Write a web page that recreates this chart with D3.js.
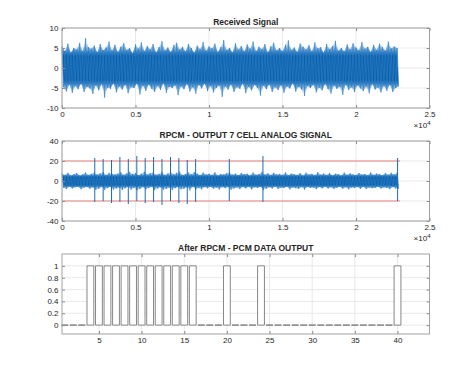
<!DOCTYPE html>
<html>
<head>
<meta charset="utf-8">
<script src="https://cdn.jsdelivr.net/npm/d3@7"></script>
<style>
  body { margin: 0; background: #fff; }
  svg text { font-family: "Liberation Sans", Helvetica, Arial, sans-serif; fill: #262626; }
</style>
</head>
<body>
<div id="chart"></div>
<script>
// samples between two read-off points of the noisy traces
const STEP = 200;

// Received Signal: upper / lower peaks read per 200 samples
const recvHigh = [
  5.5,4.2,6.1,3.8,5.0,4.6,6.3,4.1,7.5,5.2,
  4.8,5.6,3.9,6.0,4.4,5.1,6.6,4.3,5.8,4.0,
  5.3,6.2,4.5,5.0,3.7,5.9,4.8,6.4,4.2,5.5,
  4.6,6.0,3.9,5.2,6.7,4.4,5.1,4.0,5.7,6.3,
  4.6,5.3,4.1,6.0,5.0,3.8,5.6,4.7,6.5,4.3,
  5.4,4.9,6.1,4.0,5.2,7.0,4.5,5.0,3.9,6.2,
  4.6,5.5,4.1,5.9,4.8,6.6,4.2,5.3,4.7,6.0,
  3.9,5.4,6.3,4.4,5.0,4.2,5.8,6.9,4.5,5.1,
  4.0,6.1,5.3,4.6,5.7,4.1,6.4,4.9,5.2,3.8,
  6.0,4.7,5.5,6.8,4.3,5.0,4.1,5.9,4.6,6.2,
  5.1,4.4,6.5,4.8,5.3,4.0,5.8,4.5,6.1,5.2,
  4.3,6.6,4.9,5.4,5.0
];
const recvLow = [
  -4.8,-5.9,-4.1,-6.2,-4.5,-5.3,-3.9,-6.0,-4.7,-5.1,
  -6.5,-4.3,-5.6,-4.0,-7.4,-4.9,-5.2,-3.8,-6.1,-4.6,
  -5.4,-4.2,-6.3,-4.8,-5.0,-3.9,-6.6,-4.4,-5.7,-4.1,
  -5.2,-6.0,-4.5,-5.5,-3.8,-6.2,-4.7,-5.0,-4.3,-6.8,
  -4.6,-5.3,-4.0,-5.9,-4.8,-6.4,-4.2,-5.1,-3.9,-5.8,
  -4.5,-6.1,-5.0,-4.4,-7.2,-4.6,-5.4,-4.1,-6.0,-4.8,
  -5.2,-3.9,-6.3,-4.7,-5.6,-4.2,-5.0,-6.9,-4.4,-5.3,
  -4.1,-6.0,-4.8,-5.5,-4.3,-6.2,-4.6,-5.1,-3.8,-5.9,
  -4.7,-5.4,-7.0,-4.5,-5.0,-4.2,-6.1,-4.9,-5.6,-4.0,
  -5.3,-6.4,-4.4,-5.2,-4.7,-6.7,-4.1,-5.5,-4.8,-6.0,
  -4.3,-5.1,-5.8,-4.6,-6.3,-4.0,-5.4,-4.9,-6.1,-4.5,
  -5.7,-4.2,-6.0,-5.0,-4.6
];

// RPCM output: noise peaks per 200 samples
const rpcmHigh = [
  7.5,6.0,8.2,5.4,6.8,7.9,5.6,6.5,8.6,6.1,
  7.2,8.4,6.4,7.8,9.0,6.0,8.1,7.1,6.6,7.4,
  8.8,6.2,7.7,9.2,6.9,8.0,5.8,7.3,9.4,6.5,
  8.0,8.6,6.3,7.1,9.1,5.9,7.6,8.9,6.7,8.3,
  9.3,6.1,7.0,8.5,6.8,9.0,7.5,5.7,8.4,6.4,
  7.2,6.0,8.8,5.5,7.1,6.6,7.9,8.7,6.3,7.4,
  5.8,8.0,6.7,7.3,5.6,8.5,6.2,7.0,9.2,6.4,
  7.8,5.9,8.2,6.5,7.1,6.0,8.7,5.7,7.4,6.8,
  6.1,7.9,5.5,8.3,6.6,7.2,5.8,8.9,6.3,7.5,
  6.0,8.1,5.6,7.3,6.9,5.4,8.4,6.2,7.7,6.5,
  5.9,8.0,6.4,7.1,5.7,8.6,6.1,7.4,6.8,5.8,
  7.9,6.3,8.2,6.6,8.4
];
const rpcmLow = [
  -6.8,-8.0,-5.5,-7.4,-6.2,-5.8,-8.3,-6.6,-5.9,-7.7,
  -6.3,-8.9,-7.9,-5.7,-9.1,-7.1,-6.0,-8.6,-7.6,-6.4,
  -9.0,-7.3,-5.8,-8.8,-6.7,-9.3,-8.2,-6.1,-8.5,-7.0,
  -5.6,-9.2,-7.5,-6.3,-8.7,-8.0,-6.6,-9.0,-7.2,-5.9,
  -8.4,-7.8,-6.2,-9.4,-5.7,-8.6,-6.9,-8.4,-6.0,-7.3,
  -5.8,-7.7,-6.4,-8.6,-6.1,-7.2,-5.9,-8.8,-7.6,-6.5,
  -8.1,-6.0,-7.4,-5.7,-8.5,-6.3,-7.0,-5.9,-9.1,-7.8,
  -6.2,-7.5,-5.6,-8.0,-6.7,-7.1,-5.8,-8.3,-6.4,-7.2,
  -7.9,-6.1,-8.6,-5.9,-7.0,-6.5,-8.2,-6.0,-7.4,-5.7,
  -7.6,-6.3,-8.0,-6.8,-5.8,-7.7,-6.2,-8.4,-6.6,-7.1,
  -6.0,-7.9,-5.7,-8.1,-6.5,-7.3,-6.9,-5.8,-7.6,-6.4,
  -7.0,-8.2,-6.1,-7.5,-8.0
];
// cell spikes in the RPCM output: sample position, top, bottom
const spikePos = [2230, 2800, 3370, 3940, 4510, 5090, 5660, 6230, 6800, 7380, 7950, 8520, 9090, 11380, 13670, 22830];
const spikeHigh = [23, 22, 21, 24, 22, 25, 23, 24, 22, 24, 23, 21, 22, 22, 25, 23];
const spikeLow = [-21, -20, -22, -21, -23, -20, -22, -21, -24, -20, -22, -23, -21, -20, -21, -20];
const rpcmLimits = [20, -20];
const rpcmLimitEnd = 23000;

// PCM data output, cells 1..40
const pcmBits = [0,0,0,1,1,1,1,1,1,1,1,1,1,1,1,1,0,0,0,1,0,0,0,1,0,0,0,0,0,0,0,0,0,0,0,0,0,0,0,1];

// ticks
const sigXTicks = [0, 5000, 10000, 15000, 20000, 25000];
const sigXLabels = ["0", "0.5", "1", "1.5", "2", "2.5"];
const recvYTicks = [-10, -5, 0, 5, 10];
const rpcmYTicks = [-40, -20, 0, 20, 40];
const pcmXTicks = [5, 10, 15, 20, 25, 30, 35, 40];
const pcmYTicks = [0, 0.2, 0.4, 0.6, 0.8, 1];
const pcmYLabels = ["0", "0.2", "0.4", "0.6", "0.8", "1"];

const W = 474, H = 377;
const L = 62, R = 429.5;
const BLUE = "#0a60ab";

const svg = d3.select("#chart").append("svg")
    .attr("width", W)
    .attr("height", H);
const defs = svg.append("defs");

function panel(cfg) {
    const g = svg.append("g");
    const x = d3.scaleLinear().domain(cfg.xDomain).range([L, R]);
    const y = d3.scaleLinear().domain(cfg.yDomain).range([cfg.bottom, cfg.top]);

    // grid
    g.append("g").selectAll("line").data(cfg.xTicks).join("line")
        .attr("x1", d => x(d)).attr("x2", d => x(d))
        .attr("y1", cfg.top).attr("y2", cfg.bottom)
        .attr("stroke", "#e3e3e3").attr("stroke-width", 0.8);
    g.append("g").selectAll("line").data(cfg.yTicks).join("line")
        .attr("x1", L).attr("x2", R)
        .attr("y1", d => y(d)).attr("y2", d => y(d))
        .attr("stroke", "#e3e3e3").attr("stroke-width", 0.8);

    const marks = g.append("g");

    // box + inward ticks
    const fmtX = d => cfg.xLabels ? cfg.xLabels[cfg.xTicks.indexOf(d)] : d;
    const fmtY = d => cfg.yLabels ? cfg.yLabels[cfg.yTicks.indexOf(d)] : d;
    const axes = [
        [d3.axisBottom(x).tickValues(cfg.xTicks).tickFormat(fmtX), "translate(0," + cfg.bottom + ")"],
        [d3.axisTop(x).tickValues(cfg.xTicks).tickFormat(""), "translate(0," + cfg.top + ")"],
        [d3.axisLeft(y).tickValues(cfg.yTicks).tickFormat(fmtY), "translate(" + L + ",0)"],
        [d3.axisRight(y).tickValues(cfg.yTicks).tickFormat(""), "translate(" + R + ",0)"]
    ];
    axes.forEach(([ax, tr]) => {
        const a = g.append("g")
            .attr("transform", tr)
            .call(ax.tickSize(-3).tickPadding(3.5));
        a.select(".domain").remove();
        a.selectAll("line").attr("stroke", "#8c8c8c");
        a.selectAll("text").attr("font-size", 8).attr("fill", "#333")
            .attr("font-family", "Liberation Sans, Helvetica, Arial, sans-serif");
    });
    g.append("rect")
        .attr("x", L).attr("y", cfg.top)
        .attr("width", R - L).attr("height", cfg.bottom - cfg.top)
        .attr("fill", "none").attr("stroke", "#9a9a9a").attr("stroke-width", 0.9);

    g.append("text")
        .attr("x", (L + R) / 2).attr("y", cfg.top - 3.5)
        .attr("text-anchor", "middle")
        .attr("font-size", 8.5).attr("font-weight", "bold")
        .text(cfg.title);

    if (cfg.exponent) {
        const t = g.append("text")
            .attr("x", R + 1).attr("y", cfg.bottom + 20)
            .attr("text-anchor", "end")
            .attr("font-size", 8).attr("fill", "#333");
        t.append("tspan").text("\u00d710");
        t.append("tspan").attr("dy", -3.5).attr("font-size", 6).text("4");
    }
    return {marks, x, y};
}

// dense trace: filled envelope, solid in the middle and fading out to the peaks,
// with the thin zigzag through the peaks on top
function drawTrace(p, high, low, amp, id) {
    const grad = defs.append("linearGradient")
        .attr("id", id)
        .attr("gradientUnits", "userSpaceOnUse")
        .attr("x1", 0).attr("x2", 0)
        .attr("y1", p.y(amp)).attr("y2", p.y(-amp));
    const stops = [[0, "#8dbde5", 0.05], [0.1, "#5d9dd6", 0.3], [0.17, "#3a87ca", 0.6], [0.24, "#1f72bd", 0.9], [0.3, BLUE, 1]];
    stops.concat(stops.slice().reverse().map(([o, c, a]) => [1 - o, c, a]))
        .forEach(([o, c, a]) => grad.append("stop")
            .attr("offset", o).attr("stop-color", c).attr("stop-opacity", a));

    const top = high.map((h, i) => [i * STEP, h]);
    const bottom = low.map((l, i) => [i * STEP + STEP / 2, l]).reverse();
    const line = d3.line().x(d => p.x(d[0])).y(d => p.y(d[1]));

    p.marks.append("path")
        .attr("d", line(top.concat(bottom)) + "Z")
        .attr("fill", "url(#" + id + ")");

    const zz = high.flatMap((h, i) => [[i * STEP, h], [i * STEP + STEP / 2, low[i]]]);
    p.marks.append("path")
        .datum(zz)
        .attr("fill", "none")
        .attr("stroke", "#2f7fc5")
        .attr("stroke-opacity", 0.9)
        .attr("stroke-width", 0.7)
        .attr("d", line);
}

// --- Received Signal
const p1 = panel({
    top: 28, bottom: 108,
    xDomain: [0, 25000], yDomain: [-10, 10],
    xTicks: sigXTicks, xLabels: sigXLabels, yTicks: recvYTicks,
    title: "Received Signal", exponent: true
});
drawTrace(p1, recvHigh, recvLow, 7.5, "g1");

// --- RPCM output
const p2 = panel({
    top: 141, bottom: 221,
    xDomain: [0, 25000], yDomain: [-40, 40],
    xTicks: sigXTicks, xLabels: sigXLabels, yTicks: rpcmYTicks,
    title: "RPCM - OUTPUT 7 CELL ANALOG SIGNAL", exponent: true
});
p2.marks.selectAll(".limit").data(rpcmLimits).join("line")
    .attr("class", "limit")
    .attr("x1", p2.x(0)).attr("x2", p2.x(rpcmLimitEnd))
    .attr("y1", d => p2.y(d)).attr("y2", d => p2.y(d))
    .attr("stroke", "#ee8080").attr("stroke-width", 1.2);
drawTrace(p2, rpcmHigh, rpcmLow, 10, "g2");
p2.marks.selectAll(".spike").data(spikePos).join("line")
    .attr("class", "spike")
    .attr("x1", d => p2.x(d)).attr("x2", d => p2.x(d))
    .attr("y1", (d, i) => p2.y(spikeHigh[i])).attr("y2", (d, i) => p2.y(spikeLow[i]))
    .attr("stroke", "#1a6cb5").attr("stroke-width", 1);

// --- PCM data output
const p3 = panel({
    top: 254, bottom: 334,
    xDomain: [0.67, 43.75], yDomain: [-0.15, 1.2],
    xTicks: pcmXTicks, yTicks: pcmYTicks, yLabels: pcmYLabels,
    title: "After RPCM - PCM DATA OUTPUT", exponent: false
});
p3.marks.selectAll(".bar").data(pcmBits).join("path")
    .attr("class", "bar")
    .attr("d", (d, i) => {
        const x0 = p3.x(i + 1 - 0.4), x1 = p3.x(i + 1 + 0.4);
        const y0 = p3.y(0), y1 = p3.y(d);
        return "M" + x0 + "," + y0 + "V" + y1 + "H" + x1 + "V" + y0 + "Z";
    })
    .attr("fill", "#fff")
    .attr("stroke", "#7a7a7a")
    .attr("stroke-width", 0.9);
</script>
</body>
</html>
